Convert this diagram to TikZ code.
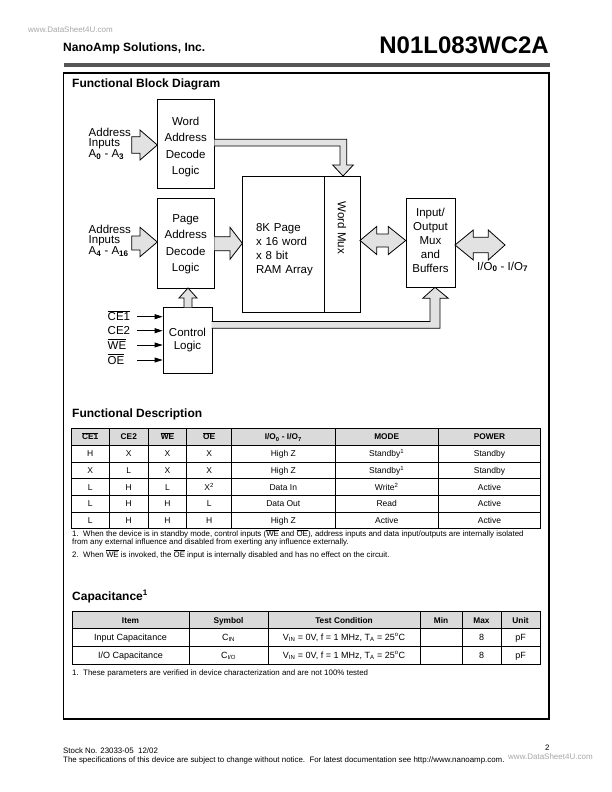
\documentclass[tikz,border=0pt]{standalone}
\usepackage{fontspec}
\setmainfont{Liberation Sans}
\usetikzlibrary{arrows.meta}
\definecolor{arrowfill}{HTML}{E2E2E2}
\definecolor{hdrfill}{HTML}{DADADA}
\definecolor{bargray}{HTML}{555555}
\definecolor{wm}{HTML}{A8A8A8}
\newcommand{\ovl}[1]{$\overline{\hbox{#1}}$}
\newcommand{\rowA}[9]{%
  \node[#1] (a#2-1) at (90.2,\ry) {#3};
  \node[#1] (a#2-2) at (128.8,\ry) {#4};
  \node[#1] (a#2-3) at (167.5,\ry) {#5};
  \node[#1] (a#2-4) at (209.2,\ry) {#6};
  \node[#1] (a#2-5) at (283.3,\ry) {#7};
  \node[#1] (a#2-6) at (386.7,\ry) {#8};
  \node[#1] (a#2-7) at (489.5,\ry) {#9};}
\newcommand{\rowB}[8]{%
  \node[#1] (b#2-1) at (130.5,\ry) {#3};
  \node[#1] (b#2-2) at (228.5,\ry) {#4};
  \node[#1] (b#2-3) at (344,\ry) {#5};
  \node[#1] (b#2-4) at (441,\ry) {#6};
  \node[#1] (b#2-5) at (481.5,\ry) {#7};
  \node[#1] (b#2-6) at (520.5,\ry) {#8};}
\begin{document}
\begin{tikzpicture}[x=1pt,y=-1pt,
  box/.style={draw, line width=0.8pt, inner sep=0pt},
  btxt/.style={inner sep=0pt, align=center, font=\fontsize{11.5}{16.5}\selectfont},
  barrow/.style={draw, line width=0.8pt, fill=arrowfill, line join=miter},
  sig/.style={line width=0.8pt, -{Triangle[length=8pt,width=5pt]}},
  lbl/.style={font=\fontsize{11.5}{13}\selectfont, inner sep=0pt},
  grid/.style={line width=0.6pt},
  th/.style={font=\bfseries\fontsize{8.3}{9}\selectfont, inner sep=0pt, anchor=base},
  td/.style={font=\fontsize{8.5}{9}\selectfont, inner sep=0pt, anchor=base},
  tdb/.style={font=\fontsize{9}{10}\selectfont, inner sep=0pt, anchor=base},
  note/.style={font=\fontsize{7.9}{7.8}\selectfont, inner sep=0pt, anchor=base west, align=left},
  head/.style={font=\bfseries\fontsize{12}{14}\selectfont, inner sep=0pt, anchor=base west},
]
\useasboundingbox (0,0) rectangle (612,792);
\fill[white] (0,0) rectangle (612,792);

% page header
\node[anchor=base west, font=\fontsize{8}{9}\selectfont, text=wm, inner sep=0pt] (wmtop) at (28,33) {www.DataSheet4U.com};
\node[anchor=base west, font=\bfseries\fontsize{12}{14}\selectfont, inner sep=0pt] (company) at (63,52) {NanoAmp Solutions, Inc.};
\node[anchor=base east, font=\bfseries\fontsize{24}{28}\selectfont, inner sep=0pt] (part) at (549,53) {N01L083WC2A};
\fill[bargray] (64,63.5) rectangle (550,67.2);
\draw[line width=1.1pt] (63.5,73) rectangle (549,719);

% headings
\node[head] (h1) at (72,88) {Functional Block Diagram};
\node[head] (h2) at (72,417) {Functional Description};
\node[head] (h3) at (72,600) {Capacitance\textsuperscript{1}};

% blocks
\node[box, minimum width=57pt, minimum height=89pt] (word) at (185.7,143.5) {};
\node[btxt] (wordtxt) at (185.7,147) {Word\\Address\\Decode\\Logic};
\node[box, minimum width=57pt, minimum height=90pt] (page) at (185.7,243) {};
\node[btxt] (pagetxt) at (185.7,244) {Page\\Address\\Decode\\Logic};
\node[box, minimum width=49pt, minimum height=66pt] (ctrl) at (187.5,340) {};
\node[btxt, font=\fontsize{11.5}{12.5}\selectfont] (ctrltxt) at (187.5,340) {Control\\Logic};
\node[box, minimum width=82pt, minimum height=136pt] (ram) at (283,244) {};
\node[lbl, align=left, text width=58pt, font=\fontsize{11.5}{13.8}\selectfont] (ramtxt) at (285,249.5) {8K Page\\x 16 word\\x 8 bit\\RAM Array};
\node[box, minimum width=36pt, minimum height=136pt] (mux) at (342,244) {};
\node[lbl, rotate=-90] (muxtxt) at (342,228) {Word Mux};
\node[box, minimum width=49pt, minimum height=89pt] (io) at (430.5,242.5) {};
\node[btxt, font=\fontsize{11.5}{14}\selectfont] (iotxt) at (430.5,240) {Input/\\Output\\Mux\\and\\Buffers};

% labels
\node[lbl, align=left, font=\fontsize{11.5}{10}\selectfont, anchor=west] (addr1) at (88.5,143.5) {Address\\Inputs\\A\textsubscript{\textbf{0}} - A\textsubscript{\textbf{3}}};
\node[lbl, align=left, font=\fontsize{11.5}{10}\selectfont, anchor=west] (addr2) at (88.5,240.5) {Address\\Inputs\\A\textsubscript{\textbf{4}} - A\textsubscript{\textbf{16}}};
\node[lbl, anchor=base west] (lce1) at (107.5,320.7) {\ovl{CE1}};
\node[lbl, anchor=base west] (lce2) at (107.5,334.7) {CE2};
\node[lbl, anchor=base west] (lwe) at (107.5,349) {\ovl{WE}};
\node[lbl, anchor=base west] (loe) at (107.5,364) {\ovl{OE}};
\node[lbl, anchor=base west] (lio) at (477,270) {I/O\textsubscript{\textbf{0}} - I/O\textsubscript{\textbf{7}}};

% control signal arrows
\coordinate (s1) at (137,316.7);
\coordinate (s2) at (137,330.7);
\coordinate (s3) at (137,345);
\coordinate (s4) at (137,360);
\draw[sig] (s1) -- (s1 -| ctrl.west);
\draw[sig] (s2) -- (s2 -| ctrl.west);
\draw[sig] (s3) -- (s3 -| ctrl.west);
\draw[sig] (s4) -- (s4 -| ctrl.west);

% block arrows
\draw[barrow] (131.7,136.7) -- (140,136.7) -- (140,130) -- (157.3,145) -- (140,160) -- (140,153.3) -- (131.7,153.3) -- cycle;
\draw[barrow] (131.7,236) -- (140,236) -- (140,227.3) -- (157.3,242) -- (140,256.7) -- (140,250) -- (131.7,250) -- cycle;
\draw[barrow] (214.3,236.7) -- (230,236.7) -- (230,227.3) -- (242.3,243.3) -- (230,259.3) -- (230,250.7) -- (214.3,250.7);
\draw[barrow] (360,240.5) -- (376.7,226.5) -- (376.7,234) -- (388.3,234) -- (388.3,226.5) -- (405.7,240.5) -- (388.3,254.5) -- (388.3,247) -- (376.7,247) -- (376.7,254.5) -- cycle;
\draw[barrow] (455,245) -- (473.3,230) -- (473.3,237.3) -- (488.3,237.3) -- (488.3,230) -- (505,245) -- (488.3,260) -- (488.3,252.7) -- (473.3,252.7) -- (473.3,260) -- cycle;
\draw[barrow] (184,307.3) -- (184,298) -- (179,298) -- (188,288) -- (197,298) -- (192,298) -- (192,307.3);
\draw[barrow] (214.3,139.3) -- (346.7,139.3) -- (346.7,165) -- (353.3,165) -- (343,176) -- (332.7,165) -- (340,165) -- (340,146) -- (214.3,146);
\draw[barrow] (211.7,321.5) -- (430,321.5) -- (430,298.3) -- (422.7,298.3) -- (435,287.3) -- (448.3,298.3) -- (440,298.3) -- (440,328.3) -- (211.7,328.3);

% table 1
\fill[hdrfill] (71,428.5) rectangle (540.7,445.2);
\draw[grid] (71,428.5) rectangle (540.7,528.7);
\foreach \y in {445.2,461.9,478.6,495.3,512} \draw[grid] (71,\y) -- (540.7,\y);
\foreach \x in {109.3,148.3,186.7,231.7,335,438.3} \draw[grid] (\x,428.5) -- (\x,528.7);
\def\ry{439.9}\rowA{th}{0}{\ovl{CE1}}{CE2}{\ovl{WE}}{\ovl{OE}}{I/O\textsubscript{0} - I/O\textsubscript{7}}{MODE}{POWER}
\def\ry{456.6}\rowA{td}{1}{H}{X}{X}{X}{High Z}{Standby\textsuperscript{1}}{Standby}
\def\ry{473.3}\rowA{td}{2}{X}{L}{X}{X}{High Z}{Standby\textsuperscript{1}}{Standby}
\def\ry{490}\rowA{td}{3}{L}{H}{L}{X\textsuperscript{2}}{Data In}{Write\textsuperscript{2}}{Active}
\def\ry{506.7}\rowA{td}{4}{L}{H}{H}{L}{Data Out}{Read}{Active}
\def\ry{523.4}\rowA{td}{5}{L}{H}{H}{H}{High Z}{Active}{Active}

\node[note] (n1) at (72,544.5) {1.\ \ When the device is in standby mode, control inputs (\ovl{WE} and \ovl{OE}), address inputs and data input/outputs are internally isolated\\from any external influence and disabled from exerting any influence externally.};
\node[note] (n2) at (72,557.5) {2.\ \ When \ovl{WE} is invoked, the \ovl{OE} input is internally disabled and has no effect on the circuit.};

% table 2
\fill[hdrfill] (72,611.5) rectangle (540,628);
\draw[grid] (72,611.5) rectangle (540,664);
\foreach \y in {628,646} \draw[grid] (72,\y) -- (540,\y);
\foreach \x in {189,268,420,462,501} \draw[grid] (\x,611.5) -- (\x,664);
\def\ry{623}\rowB{th}{0}{Item}{Symbol}{Test Condition}{Min}{Max}{Unit}
\def\ry{640.4}\rowB{tdb}{1}{Input Capacitance}{C\textsubscript{IN}}{V\textsubscript{IN} = 0V, f = 1 MHz, T\textsubscript{A} = 25\textsuperscript{o}C}{}{8}{pF}
\def\ry{658.4}\rowB{tdb}{2}{I/O Capacitance}{C\textsubscript{I/O}}{V\textsubscript{IN} = 0V, f = 1 MHz, T\textsubscript{A} = 25\textsuperscript{o}C}{}{8}{pF}
\node[note] (n3) at (72,675.5) {1.\ \ These parameters are verified in device characterization and are not 100\% tested};

% footer
\node[note] (f1) at (63,753) {Stock No. 23033-05\ \ 12/02};
\node[note] (f2) at (63,762) {The specifications of this device are subject to change without notice.\ \ For latest documentation see http://www.nanoamp.com.};
\node[note] (pg) at (545,750) {2};
\node[anchor=base west, font=\fontsize{8}{9}\selectfont, text=wm, inner sep=0pt] (wmbot) at (508,759.5) {www.DataSheet4U.com};
\end{tikzpicture}
\end{document}
